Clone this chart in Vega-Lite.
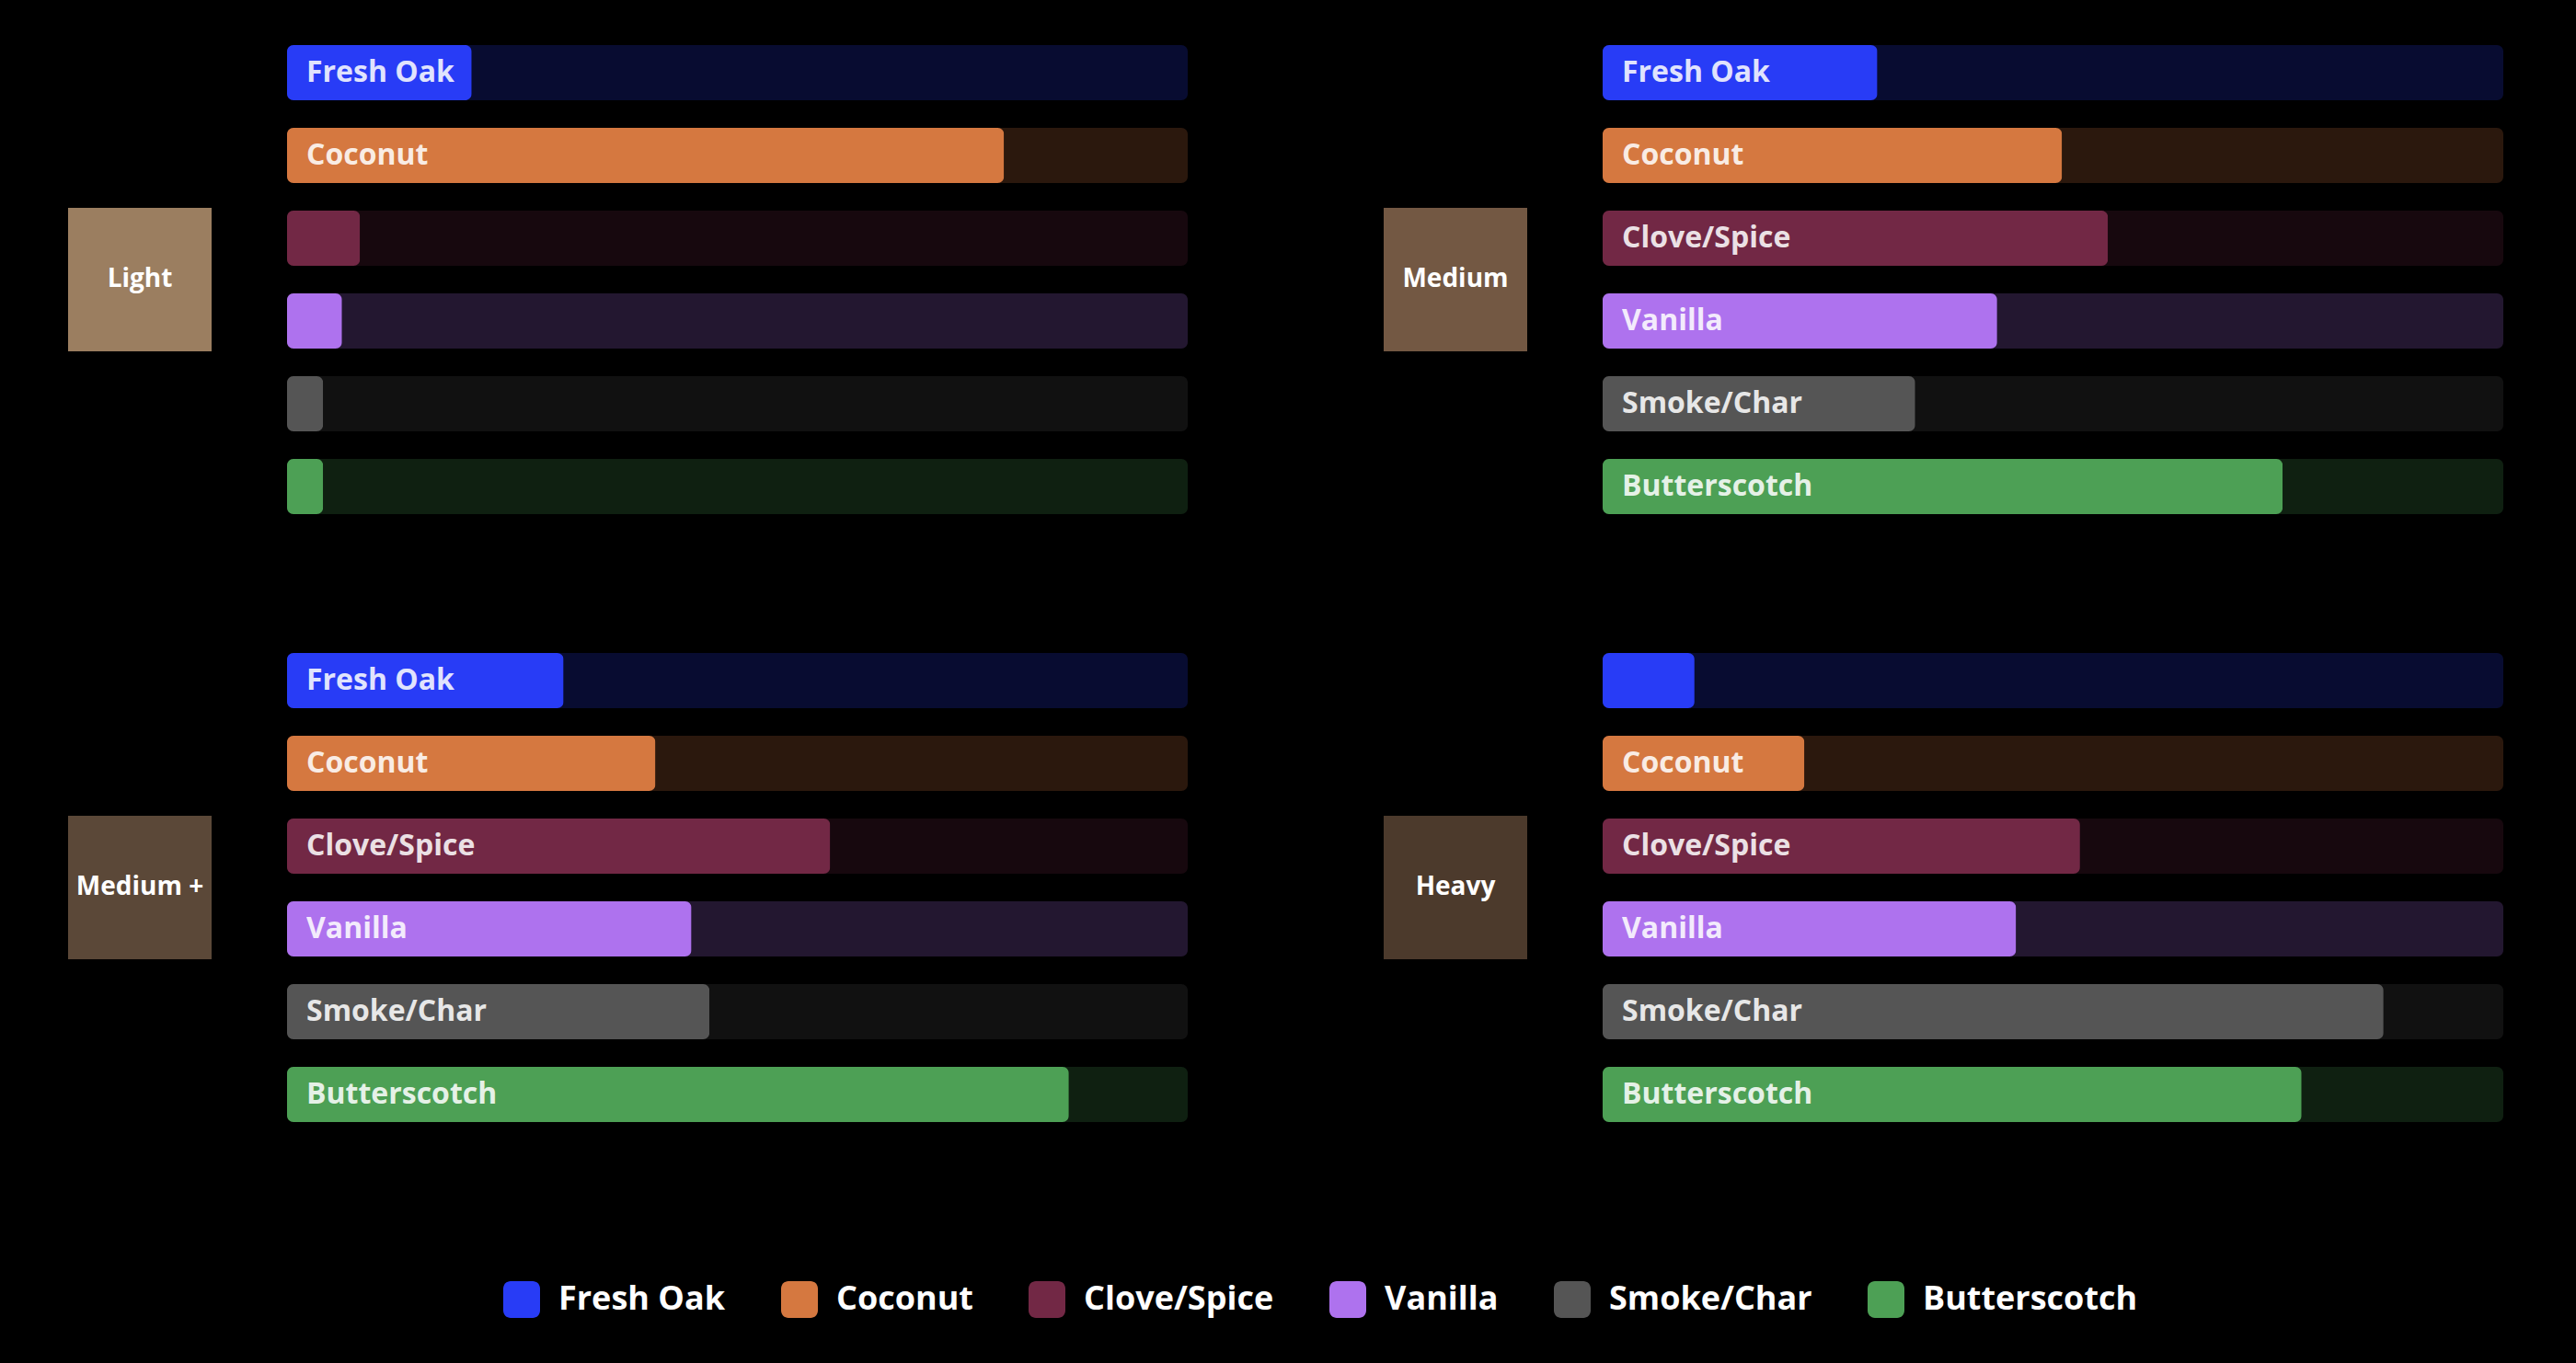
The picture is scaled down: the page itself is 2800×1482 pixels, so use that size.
{
  "$schema": "https://vega.github.io/schema/vega-lite/v6.json",
  "background": "#000000",
  "padding": {"left": 74, "top": 49, "right": 79, "bottom": 49},
  "config": {
    "view": {"stroke": null},
    "font": "Open Sans",
    "legend": {
      "orient": "none",
      "legendX": 473,
      "legendY": 1344,
      "direction": "horizontal",
      "title": null,
      "labelFontSize": 36,
      "labelFontWeight": "bold",
      "labelColor": "#ffffff",
      "labelLimit": 500,
      "labelOffset": 20,
      "columnPadding": 60,
      "symbolSize": 1600,
      "symbolOpacity": 1,
      "symbolStrokeWidth": 0,
      "symbolType": "M-0.6,-1H0.6A0.4,0.4,0,0,1,1,-0.6V0.6A0.4,0.4,0,0,1,0.6,1H-0.6A0.4,0.4,0,0,1,-1,0.6V-0.6A0.4,0.4,0,0,1,-0.6,-1Z"
    }
  },
  "datasets": {
    "roasts": [
      {"roast": "Light"}, {"roast": "Medium"}, {"roast": "Medium +"}, {"roast": "Heavy"}
    ],
    "bars": [
      {"roast": "Light", "flavor": "Fresh Oak", "value": 20.5},
      {"roast": "Light", "flavor": "Coconut", "value": 79.6},
      {"roast": "Light", "flavor": "Clove/Spice", "value": 8.1},
      {"roast": "Light", "flavor": "Vanilla", "value": 6.1},
      {"roast": "Light", "flavor": "Smoke/Char", "value": 4},
      {"roast": "Light", "flavor": "Butterscotch", "value": 4},
      {"roast": "Medium", "flavor": "Fresh Oak", "value": 30.5},
      {"roast": "Medium", "flavor": "Coconut", "value": 51},
      {"roast": "Medium", "flavor": "Clove/Spice", "value": 56.1},
      {"roast": "Medium", "flavor": "Vanilla", "value": 43.8},
      {"roast": "Medium", "flavor": "Smoke/Char", "value": 34.7},
      {"roast": "Medium", "flavor": "Butterscotch", "value": 75.5},
      {"roast": "Medium +", "flavor": "Fresh Oak", "value": 30.7},
      {"roast": "Medium +", "flavor": "Coconut", "value": 40.9},
      {"roast": "Medium +", "flavor": "Clove/Spice", "value": 60.3},
      {"roast": "Medium +", "flavor": "Vanilla", "value": 44.9},
      {"roast": "Medium +", "flavor": "Smoke/Char", "value": 46.9},
      {"roast": "Medium +", "flavor": "Butterscotch", "value": 86.8},
      {"roast": "Heavy", "flavor": "Fresh Oak", "value": 10.2},
      {"roast": "Heavy", "flavor": "Coconut", "value": 22.4},
      {"roast": "Heavy", "flavor": "Clove/Spice", "value": 53},
      {"roast": "Heavy", "flavor": "Vanilla", "value": 45.9},
      {"roast": "Heavy", "flavor": "Smoke/Char", "value": 86.7},
      {"roast": "Heavy", "flavor": "Butterscotch", "value": 77.6}
    ]
  },
  "spacing": 151,
  "vconcat": [
    {
      "spacing": 213,
      "hconcat": [
        {
          "spacing": 82, "center": true,
          "hconcat": [
            {
              "width": 156, "height": 156,
              "view": {"fill": "#9B7E60", "stroke": null},
              "data": {"name": "roasts"},
              "transform": [{"filter": "datum.roast === 'Light'"}],
              "mark": {"type": "text", "fontSize": 28, "fontWeight": "bold", "color": "#ffffff"},
              "encoding": {"text": {"field": "roast"}}
            },
            {
              "width": 979, "height": 510,
              "data": {"name": "bars"},
              "transform": [{"filter": "datum.roast === 'Light'"}],
              "encoding": {
                "y": {"field": "flavor", "type": "nominal", "axis": null,
                      "sort": ["Fresh Oak", "Coconut", "Clove/Spice", "Vanilla", "Smoke/Char", "Butterscotch"],
                      "scale": {"paddingInner": 0.3333, "paddingOuter": 0}}
              },
              "layer": [
                {"mark": {"type": "bar", "cornerRadius": 7, "opacity": 0.2},
                 "encoding": {"x": {"datum": 100, "type": "quantitative", "scale": {"domain": [0, 100]}, "axis": null},
                              "color": {"field": "flavor", "type": "nominal",
                                        "scale": {"domain": ["Fresh Oak", "Coconut", "Clove/Spice", "Vanilla", "Smoke/Char", "Butterscotch"],
                                                  "range": ["#283CF6", "#D57840", "#722845", "#AE72EE", "#555555", "#4DA055"]}}}},
                {"mark": {"type": "bar", "cornerRadius": 7},
                 "encoding": {"x": {"field": "value", "type": "quantitative", "scale": {"domain": [0, 100]}, "axis": null},
                              "color": {"field": "flavor", "type": "nominal"}}},
                {"transform": [{"filter": "datum.value >= 15"}],
                 "mark": {"type": "text", "align": "left", "dx": 21, "fontSize": 32, "fontWeight": "bold", "color": "#ffffff", "opacity": 0.86},
                 "encoding": {"x": {"datum": 0, "type": "quantitative"}, "text": {"field": "flavor"}}}
              ]
            }
          ]
        },
        {
          "spacing": 82, "center": true,
          "hconcat": [
            {
              "width": 156, "height": 156,
              "view": {"fill": "#735843", "stroke": null},
              "data": {"name": "roasts"},
              "transform": [{"filter": "datum.roast === 'Medium'"}],
              "mark": {"type": "text", "fontSize": 28, "fontWeight": "bold", "color": "#ffffff"},
              "encoding": {"text": {"field": "roast"}}
            },
            {
              "width": 979, "height": 510,
              "data": {"name": "bars"},
              "transform": [{"filter": "datum.roast === 'Medium'"}],
              "encoding": {
                "y": {"field": "flavor", "type": "nominal", "axis": null,
                      "sort": ["Fresh Oak", "Coconut", "Clove/Spice", "Vanilla", "Smoke/Char", "Butterscotch"],
                      "scale": {"paddingInner": 0.3333, "paddingOuter": 0}}
              },
              "layer": [
                {"mark": {"type": "bar", "cornerRadius": 7, "opacity": 0.2},
                 "encoding": {"x": {"datum": 100, "type": "quantitative", "scale": {"domain": [0, 100]}, "axis": null},
                              "color": {"field": "flavor", "type": "nominal"}}},
                {"mark": {"type": "bar", "cornerRadius": 7},
                 "encoding": {"x": {"field": "value", "type": "quantitative", "scale": {"domain": [0, 100]}, "axis": null},
                              "color": {"field": "flavor", "type": "nominal"}}},
                {"transform": [{"filter": "datum.value >= 15"}],
                 "mark": {"type": "text", "align": "left", "dx": 21, "fontSize": 32, "fontWeight": "bold", "color": "#ffffff", "opacity": 0.86},
                 "encoding": {"x": {"datum": 0, "type": "quantitative"}, "text": {"field": "flavor"}}}
              ]
            }
          ]
        }
      ]
    },
    {
      "spacing": 213,
      "hconcat": [
        {
          "spacing": 82, "center": true,
          "hconcat": [
            {
              "width": 156, "height": 156,
              "view": {"fill": "#5B4838", "stroke": null},
              "data": {"name": "roasts"},
              "transform": [{"filter": "datum.roast === 'Medium +'"}],
              "mark": {"type": "text", "fontSize": 28, "fontWeight": "bold", "color": "#ffffff"},
              "encoding": {"text": {"field": "roast"}}
            },
            {
              "width": 979, "height": 510,
              "data": {"name": "bars"},
              "transform": [{"filter": "datum.roast === 'Medium +'"}],
              "encoding": {
                "y": {"field": "flavor", "type": "nominal", "axis": null,
                      "sort": ["Fresh Oak", "Coconut", "Clove/Spice", "Vanilla", "Smoke/Char", "Butterscotch"],
                      "scale": {"paddingInner": 0.3333, "paddingOuter": 0}}
              },
              "layer": [
                {"mark": {"type": "bar", "cornerRadius": 7, "opacity": 0.2},
                 "encoding": {"x": {"datum": 100, "type": "quantitative", "scale": {"domain": [0, 100]}, "axis": null},
                              "color": {"field": "flavor", "type": "nominal"}}},
                {"mark": {"type": "bar", "cornerRadius": 7},
                 "encoding": {"x": {"field": "value", "type": "quantitative", "scale": {"domain": [0, 100]}, "axis": null},
                              "color": {"field": "flavor", "type": "nominal"}}},
                {"transform": [{"filter": "datum.value >= 15"}],
                 "mark": {"type": "text", "align": "left", "dx": 21, "fontSize": 32, "fontWeight": "bold", "color": "#ffffff", "opacity": 0.86},
                 "encoding": {"x": {"datum": 0, "type": "quantitative"}, "text": {"field": "flavor"}}}
              ]
            }
          ]
        },
        {
          "spacing": 82, "center": true,
          "hconcat": [
            {
              "width": 156, "height": 156,
              "view": {"fill": "#4C3A2C", "stroke": null},
              "data": {"name": "roasts"},
              "transform": [{"filter": "datum.roast === 'Heavy'"}],
              "mark": {"type": "text", "fontSize": 28, "fontWeight": "bold", "color": "#ffffff"},
              "encoding": {"text": {"field": "roast"}}
            },
            {
              "width": 979, "height": 510,
              "data": {"name": "bars"},
              "transform": [{"filter": "datum.roast === 'Heavy'"}],
              "encoding": {
                "y": {"field": "flavor", "type": "nominal", "axis": null,
                      "sort": ["Fresh Oak", "Coconut", "Clove/Spice", "Vanilla", "Smoke/Char", "Butterscotch"],
                      "scale": {"paddingInner": 0.3333, "paddingOuter": 0}}
              },
              "layer": [
                {"mark": {"type": "bar", "cornerRadius": 7, "opacity": 0.2},
                 "encoding": {"x": {"datum": 100, "type": "quantitative", "scale": {"domain": [0, 100]}, "axis": null},
                              "color": {"field": "flavor", "type": "nominal"}}},
                {"mark": {"type": "bar", "cornerRadius": 7},
                 "encoding": {"x": {"field": "value", "type": "quantitative", "scale": {"domain": [0, 100]}, "axis": null},
                              "color": {"field": "flavor", "type": "nominal"}}},
                {"transform": [{"filter": "datum.value >= 15"}],
                 "mark": {"type": "text", "align": "left", "dx": 21, "fontSize": 32, "fontWeight": "bold", "color": "#ffffff", "opacity": 0.86},
                 "encoding": {"x": {"datum": 0, "type": "quantitative"}, "text": {"field": "flavor"}}}
              ]
            }
          ]
        }
      ]
    }
  ]
}
